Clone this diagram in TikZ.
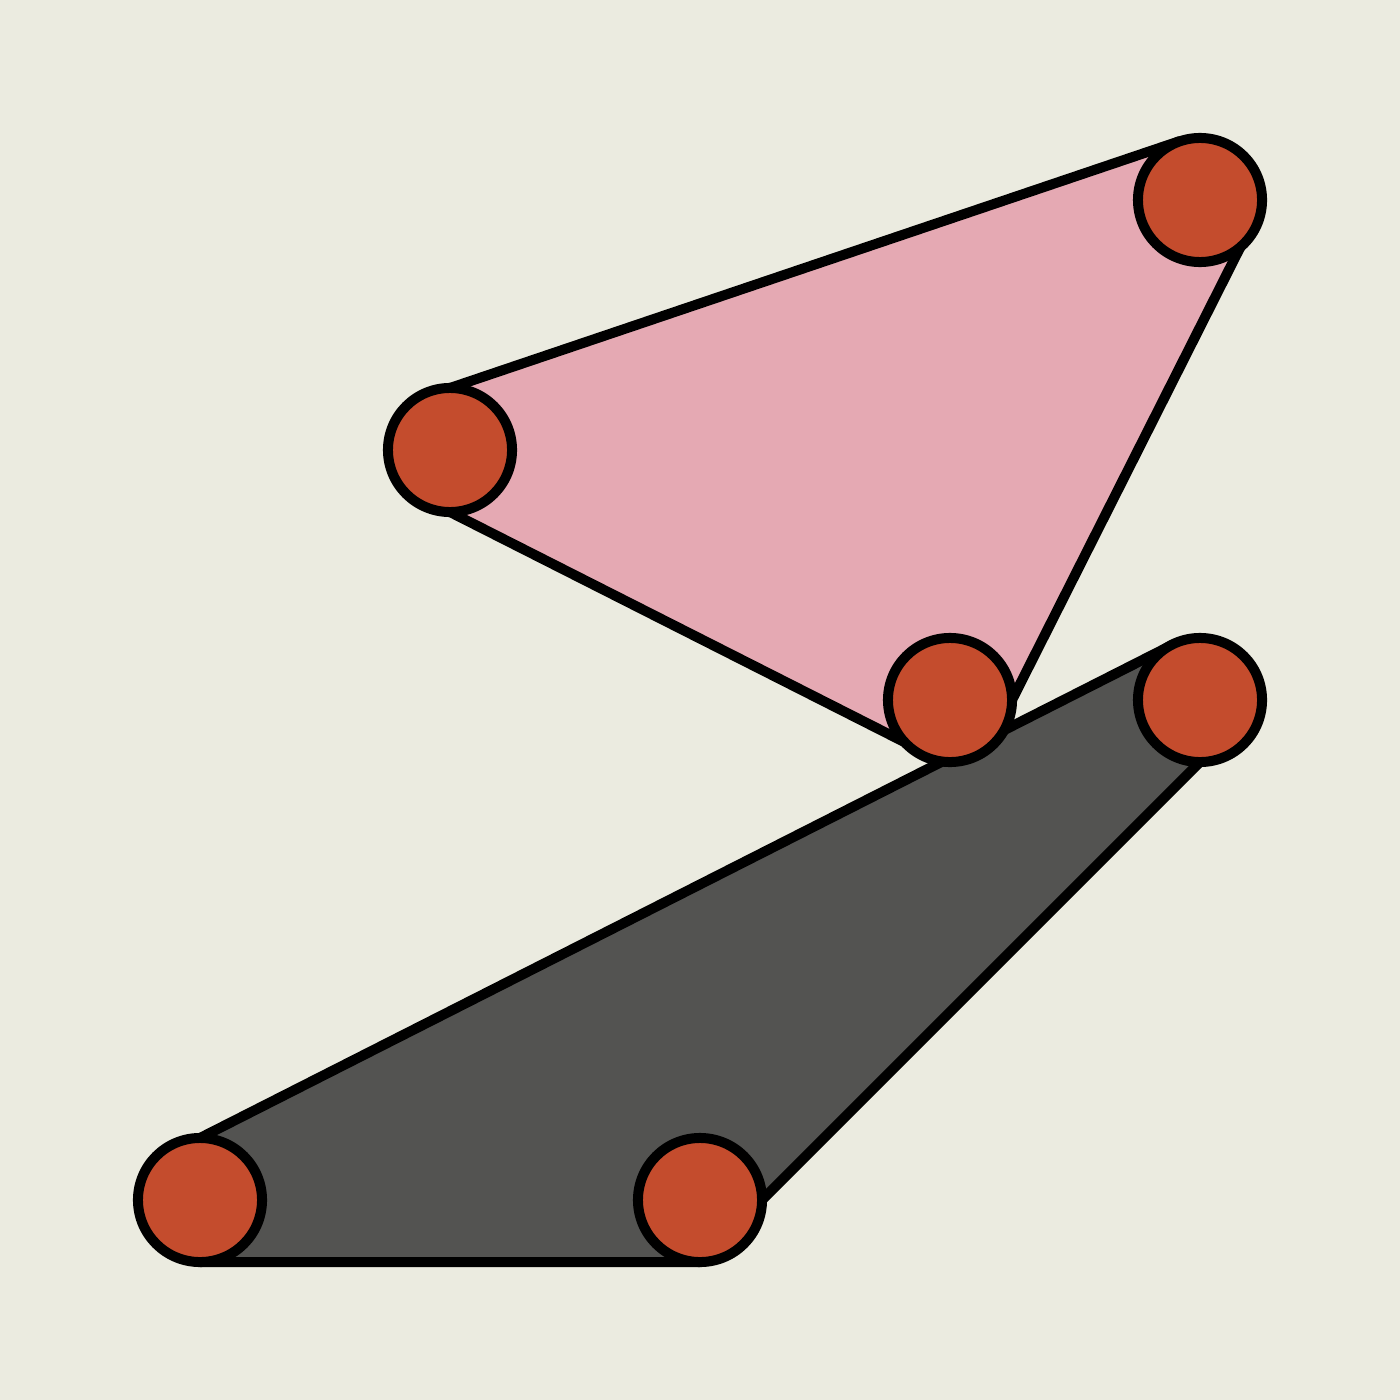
\documentclass[tikz,border=0pt]{standalone}
\begin{document}
\begin{tikzpicture}[x=0.01cm,y=-0.01cm,
  hull/.style={draw=black,line width=1mm,line join=round},
  dot/.style={circle,draw=black,fill=dotcol,line width=1mm,minimum size=1.24cm,inner sep=0pt}]
\definecolor{bgcol}{HTML}{EBEBE0}
\definecolor{pinkcol}{HTML}{E5A9B3}
\definecolor{darkcol}{HTML}{535351}
\definecolor{dotcol}{HTML}{C44C2D}
\useasboundingbox (0,0) rectangle (1400,1400);
\fill[bgcol] (0,0) rectangle (1400,1400);
% centres
\coordinate (p1) at (450,450);
\coordinate (p2) at (1200,200);
\coordinate (p3) at (950,700);
\coordinate (q1) at (200,1200);
\coordinate (q2) at (700,1200);
\coordinate (q3) at (1200,700);
% pink hull
\draw[hull,fill=pinkcol] (450,388) -- (1180,141) -- (p2) -- (1250,228) -- (1012,700) -- (p3) -- (924,752) -- (450,512) -- (p1) -- cycle;
% dark hull
\draw[hull,fill=darkcol] (200,1138) -- (1172,645) -- (q3) -- (1200,762) -- (762,1200) -- (q2) -- (700,1262) -- (200,1262) -- (q1) -- cycle;
% dots
\node[dot] (a) at (p1) {};
\node[dot] (b) at (p2) {};
\node[dot] (c) at (p3) {};
\node[dot] (d) at (q1) {};
\node[dot] (e) at (q2) {};
\node[dot] (f) at (q3) {};
\end{tikzpicture}
\end{document}
